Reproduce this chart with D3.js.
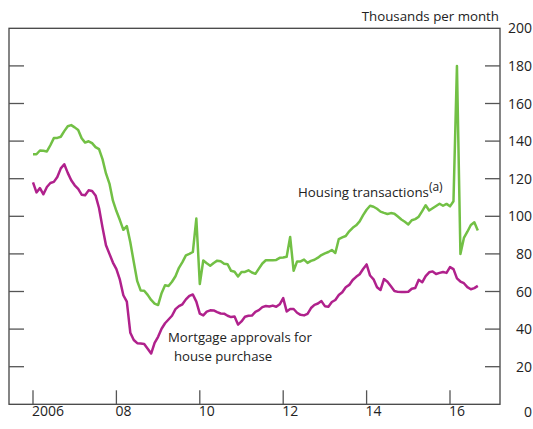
<!DOCTYPE html>
<html><head><meta charset="utf-8">
<script src="https://cdn.jsdelivr.net/npm/d3@7"></script>
<style>
body{margin:0;background:#fff;}
text{font-family:"Open Sans",sans-serif;fill:#222;}
</style></head>
<body>
<svg id="c" width="533" height="429"></svg>
<script>
// Monthly data, Jan 2006 – Sep 2016 (thousands per month)
const startYear = 2006;
const housingTransactions = [
133,133,135,134.9,134.5,137.8,141.6,141.7,142.3,145.3,147.9,148.5,
147.3,145.9,141.5,139.2,139.9,138.9,136.8,135.7,130.4,122.8,117.4,108.3,
102.8,98,92.8,94.8,86.2,75.7,65.5,60.5,60.4,58.2,55.5,53.6,
52.8,59.1,63.3,62.9,65.2,68.1,72.6,75.6,79.2,80,81,98.8,
64,76.5,75,73.7,75.2,76.4,76.1,74.8,74.5,71,70.5,68,
70.4,70.4,71.3,70.1,69.4,72.2,74.9,76.6,76.6,76.6,76.8,77.9,
78.1,78.5,89,71,76,76,77,75.2,76.3,76.9,78,79.4,
80.3,81,82.1,80.5,87.9,88.8,89.5,92,93.9,95.2,97.3,100.6,
103.5,105.6,105.1,104,102.5,101.8,101.2,101.7,101.4,99.9,98.3,97.1,
95.7,97.9,98.5,99.8,102.8,105.9,103.1,104.3,105.5,106.7,105.6,106.6,
105.3,108,180,80,88.5,91.8,95.4,96.8,92.5
];
const mortgageApprovals = [
118,112.7,115,111.7,115.6,117.7,118.3,120.9,125.5,127.7,123.1,119.2,
116.5,114.6,111.5,111.2,113.8,113.5,111.1,104.4,94.1,84.6,80,75.4,
71.9,66.3,58,54.6,38.1,34.2,32.5,32.3,32.1,29.6,27,32.7,
35.9,40.2,43.1,45.1,47.1,50.6,52.2,53.2,55.8,57.7,58.4,54.6,
48.2,47.3,49.3,50,49.9,49,48.3,48.2,47.1,46.4,46.7,42.4,
44.1,46.6,47.1,47.2,49.2,50.1,51.7,52.3,52,52.5,51.9,53.2,
56.5,49.4,50.7,50.7,48.7,47.6,47.3,48.1,51.2,52.9,53.6,54.9,
52.2,51.9,54.4,55.5,58.1,59.6,62.3,63.5,66.1,67.8,69.2,72,
74.4,68.5,66.5,62.3,60.8,66.6,65.2,62.8,60.3,59.8,59.7,59.7,
59.9,61.5,61.9,66.2,64.9,68.2,70.2,70.7,69.3,69.9,70.4,69.9,
73,71.9,67,65.3,64.4,62.3,61.2,61.8,63
];
const yTicks = [0,20,40,60,80,100,120,140,160,180,200];
const xTickYears = [2006,2008,2010,2012,2014,2016];
const xTickLabels = ["2006","08","10","12","14","16"];
const unitLabel = "Thousands per month";

const svg = d3.select("#c");
const L=9, R=500, T=28.3, B=404.3;
const x = d3.scaleLinear().domain([2006 - 24/41.7, 2006 + 467/41.7]).range([L, R]);
const y = d3.scaleLinear().domain([0,200]).range([B, T]);

const toPts = arr => arr.map((v,i)=>({t: startYear + i/12, v}));

// frame
svg.append("rect").attr("x",L).attr("y",T).attr("width",R-L).attr("height",B-T)
  .attr("fill","none").attr("stroke","#444").attr("stroke-width",1.3);

// y ticks (inner, both sides)
const inner = yTicks.filter(d=>d>0 && d<200);
svg.append("g").selectAll("line.l").data(inner).join("line")
  .attr("x1",L).attr("x2",L+15).attr("y1",d=>y(d)).attr("y2",d=>y(d))
  .attr("stroke","#555").attr("stroke-width",1.3);
svg.append("g").selectAll("line.r").data(inner).join("line")
  .attr("x1",R-15).attr("x2",R).attr("y1",d=>y(d)).attr("y2",d=>y(d))
  .attr("stroke","#555").attr("stroke-width",1.3);

// right labels
svg.append("g").selectAll("text").data(yTicks).join("text")
  .attr("x",532).attr("y",d=> d===0 ? 417 : y(d)+5)
  .attr("text-anchor","end").attr("font-size",14).text(d=>d);

// x ticks
svg.append("g").selectAll("line").data(xTickYears).join("line")
  .attr("x1",d=>x(d)).attr("x2",d=>x(d)).attr("y1",B).attr("y2",B-14)
  .attr("stroke","#555").attr("stroke-width",1.3);
svg.append("g").selectAll("text").data(xTickYears).join("text")
  .attr("x",d=>x(d)-1).attr("y",416).attr("font-size",14)
  .text((d,i)=>xTickLabels[i]);

// unit label
svg.append("text").attr("x",499).attr("y",21).attr("text-anchor","end")
  .attr("font-size",13.3).text(unitLabel);

const line = d3.line().x(d=>x(d.t)).y(d=>y(d.v));
svg.append("path").datum(toPts(housingTransactions)).attr("d",line)
  .attr("fill","none").attr("stroke","#72c045").attr("stroke-width",2.5).attr("stroke-linejoin","round");
svg.append("path").datum(toPts(mortgageApprovals)).attr("d",line)
  .attr("fill","none").attr("stroke","#b0218c").attr("stroke-width",2.5).attr("stroke-linejoin","round");

// annotations
const ht = svg.append("text").attr("x",298).attr("y",196.5).attr("font-size",13.3);
ht.append("tspan").text("Housing transactions");
ht.append("tspan").attr("font-size",12).attr("dy",-6).text("(a)");
svg.append("text").attr("x",168).attr("y",341.5).attr("font-size",13.2).text("Mortgage approvals for");
svg.append("text").attr("x",174).attr("y",360.5).attr("font-size",13.2).text("house purchase");
</script>
</body></html>
